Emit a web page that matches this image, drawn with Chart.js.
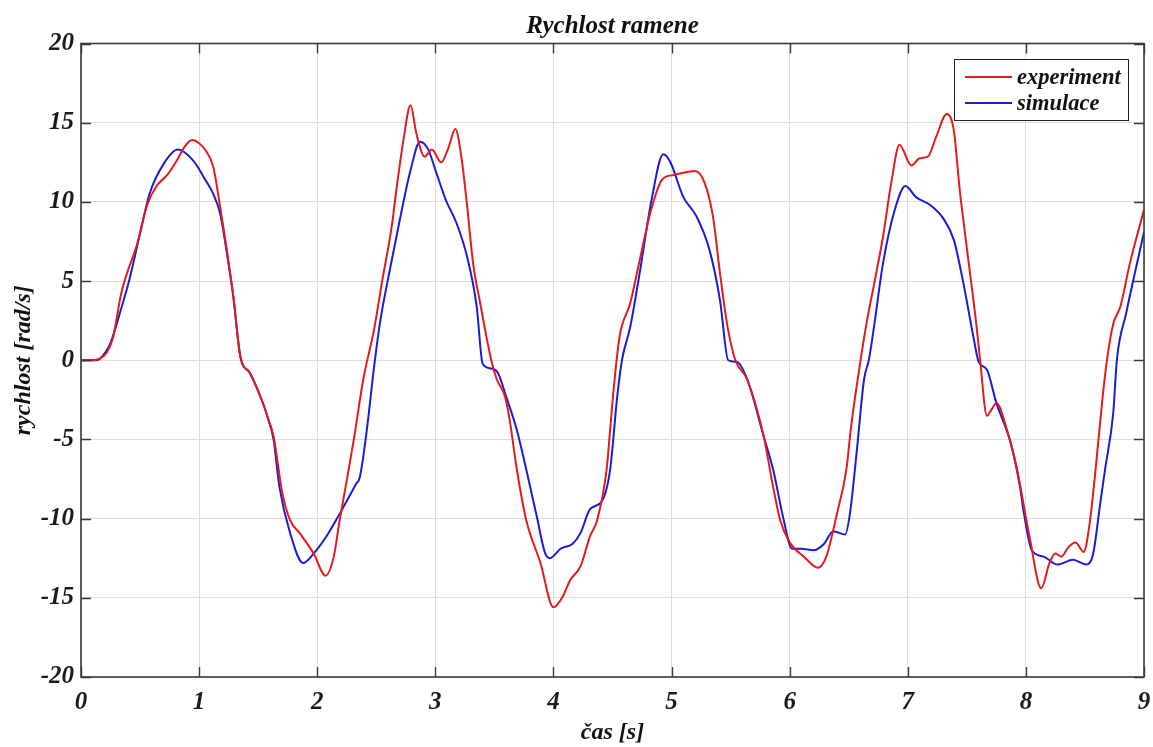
<!DOCTYPE html>
<html>
<head>
<meta charset="utf-8">
<title>Rychlost ramene</title>
<script src="https://cdn.jsdelivr.net/npm/chart.js@4.4.1/dist/chart.umd.min.js"></script>
<style>
  html, body { margin: 0; padding: 0; background: #ffffff; }
  #wrap { width: 1153px; height: 747px; }
</style>
</head>
<body>
<div id="wrap"><canvas id="c" width="1153" height="747"></canvas></div>
<script>
// Measured arm velocity (experiment)
const expTime = [0,0.10,0.16,0.22,0.27,0.34,0.39,0.47,0.56,0.64,0.73,0.81,0.88,0.94,1.00,1.06,1.12,1.18,1.23,1.29,1.35,1.43,1.54,1.58,1.63,1.66,1.70,1.77,1.85,1.97,2.07,2.14,2.19,2.25,2.31,2.39,2.48,2.55,2.63,2.67,2.73,2.79,2.84,2.91,2.97,3.05,3.11,3.17,3.22,3.27,3.32,3.38,3.44,3.48,3.52,3.59,3.63,3.69,3.77,3.89,4.00,4.08,4.14,4.23,4.31,4.37,4.45,4.48,4.51,4.56,4.65,4.73,4.82,4.92,5.02,5.20,5.28,5.35,5.41,5.47,5.54,5.64,5.78,5.86,5.92,6.00,6.12,6.24,6.31,6.40,6.48,6.52,6.58,6.65,6.72,6.79,6.86,6.93,7.03,7.10,7.17,7.24,7.33,7.39,7.44,7.51,7.58,7.61,7.67,7.71,7.75,7.84,7.92,8.03,8.13,8.20,8.25,8.30,8.36,8.42,8.49,8.54,8.59,8.65,8.69,8.74,8.80,8.88,9.00];
const expSpeed = [0,0,0.1,0.5,1.4,4.2,5.5,7.2,9.8,11.0,11.7,12.6,13.5,13.9,13.7,13.2,12.2,9.6,7.2,4.0,0.2,-0.8,-2.7,-3.6,-4.8,-6.2,-8.2,-10.1,-10.9,-12.2,-13.6,-12.4,-10.1,-7.6,-5.0,-1.2,1.9,5.0,8.4,10.75,13.9,16.1,14.3,12.85,13.3,12.5,13.4,14.6,12.85,9.7,6.1,3.6,1.2,-0.2,-1.2,-2.3,-3.8,-6.9,-10.1,-12.8,-15.6,-14.9,-13.9,-13.0,-11.1,-10.1,-6.9,-4.4,-1.8,1.5,3.6,6.3,9.3,11.4,11.7,11.95,11.2,9.1,5.5,2.3,0.0,-1.2,-4.8,-8.0,-10.1,-11.5,-12.4,-13.1,-12.4,-9.7,-6.9,-4.2,-1.0,2.3,5.0,7.8,11.2,13.6,12.3,12.75,12.85,14.1,15.55,14.5,10.75,6.5,2.3,0.2,-3.5,-3.1,-2.7,-4.4,-6.7,-11.1,-14.4,-12.8,-12.2,-12.4,-11.8,-11.5,-12.1,-10.3,-6.9,-2.3,0.2,2.3,3.4,6.1,9.5];

// Simulated arm velocity
const simTime = [0,0.12,0.16,0.25,0.33,0.41,0.50,0.58,0.70,0.82,0.95,1.06,1.12,1.18,1.23,1.29,1.35,1.43,1.54,1.58,1.63,1.68,1.77,1.88,1.97,2.08,2.19,2.33,2.36,2.42,2.48,2.53,2.62,2.70,2.79,2.87,2.94,3.01,3.09,3.18,3.27,3.35,3.40,3.46,3.53,3.60,3.69,3.77,3.86,3.93,3.97,4.06,4.16,4.23,4.31,4.41,4.48,4.54,4.58,4.65,4.73,4.83,4.93,4.99,5.10,5.21,5.32,5.41,5.48,5.55,5.64,5.78,5.86,5.95,6.02,6.10,6.20,6.29,6.37,6.47,6.51,6.57,6.63,6.67,6.71,6.79,6.89,6.98,7.07,7.19,7.30,7.39,7.47,7.56,7.60,7.67,7.75,7.87,7.95,7.98,8.05,8.15,8.27,8.40,8.51,8.57,8.63,8.67,8.74,8.77,8.85,9.00];
const simSpeed = [0,0,0.1,1.1,3.0,5.1,8.0,10.5,12.4,13.3,12.6,11.3,10.5,9.2,7.0,4.0,0.2,-0.8,-2.7,-3.6,-5.0,-8.0,-10.9,-12.8,-12.2,-11.1,-9.7,-7.8,-7.4,-4.4,-0.5,2.3,5.9,8.9,12.0,13.8,13.3,11.8,10.1,8.65,6.5,3.4,-0.2,-0.5,-0.8,-2.3,-4.4,-6.9,-9.9,-12.2,-12.5,-11.9,-11.6,-10.9,-9.4,-8.9,-6.9,-2.3,0.0,2.1,5.5,10.1,13.0,12.5,10.3,9.1,7.0,3.8,0.0,-0.1,-1.2,-4.8,-6.9,-10.1,-11.9,-11.9,-12.0,-11.6,-10.8,-11.0,-9.7,-5.6,-1.2,0.0,1.9,6.1,9.5,11.0,10.3,9.8,8.96,7.6,4.9,1.3,-0.1,-0.6,-2.7,-5.2,-8.0,-9.5,-12.0,-12.4,-12.9,-12.6,-12.9,-12.2,-9.0,-6.9,-3.3,0.0,3.0,8.1];

// Axis tick values
const timeTicks = [0,1,2,3,4,5,6,7,8,9];
const speedTicks = [-20,-15,-10,-5,0,5,10,15,20];

const seriesNames = ['experiment', 'simulace'];
const seriesColors = ['rgb(228,26,28)', 'rgb(28,28,214)'];

const serif = "'Liberation Serif', 'Times New Roman', serif";
const frameColor = '#3a3a3a';

function pairs(xs, ys) { return xs.map((x, i) => ({ x: x, y: ys[i] })); }

// Box around the plot area with inward tick marks on all four sides
const frameTicks = {
  id: 'frameTicks',
  afterDatasetsDraw(chart) {
    const { ctx, chartArea: a, scales } = chart;
    const len = 10;
    ctx.save();
    ctx.strokeStyle = frameColor;
    ctx.lineWidth = 1.4;
    ctx.beginPath();
    timeTicks.forEach(t => {
      const x = Math.round(scales.x.getPixelForValue(t)) + 0.5;
      ctx.moveTo(x, a.bottom); ctx.lineTo(x, a.bottom - len);
      ctx.moveTo(x, a.top); ctx.lineTo(x, a.top + len);
    });
    speedTicks.forEach(v => {
      const y = Math.round(scales.y.getPixelForValue(v)) + 0.5;
      ctx.moveTo(a.left, y); ctx.lineTo(a.left + len, y);
      ctx.moveTo(a.right, y); ctx.lineTo(a.right - len, y);
    });
    ctx.stroke();
    ctx.lineWidth = 1.6;
    ctx.strokeRect(a.left, a.top, a.right - a.left, a.bottom - a.top);
    ctx.restore();
  }
};

// Boxed legend in the upper right corner of the plot
const boxLegend = {
  id: 'boxLegend',
  afterDraw(chart) {
    const { ctx, chartArea: a } = chart;
    const w = 174, h = 61;
    const x0 = a.right - 16 - w, y0 = a.top + 15.5;
    ctx.save();
    ctx.fillStyle = '#ffffff';
    ctx.fillRect(x0, y0, w, h);
    ctx.strokeStyle = '#222222';
    ctx.lineWidth = 1;
    ctx.strokeRect(x0 + 0.5, y0 + 0.5, w, h);
    ctx.font = "italic bold 22.5px " + serif;
    ctx.textBaseline = 'middle';
    ctx.textAlign = 'left';
    chart.data.datasets.forEach((ds, i) => {
      const y = y0 + 18 + i * 26;
      ctx.strokeStyle = ds.borderColor;
      ctx.lineWidth = 2;
      ctx.beginPath();
      ctx.moveTo(x0 + 11, y); ctx.lineTo(x0 + 58, y);
      ctx.stroke();
      ctx.fillStyle = '#111111';
      ctx.fillText(ds.label, x0 + 63, y + 1);
    });
    ctx.restore();
  }
};

new Chart(document.getElementById('c'), {
  type: 'line',
  data: {
    datasets: [
      { label: seriesNames[0], data: pairs(expTime, expSpeed), borderColor: seriesColors[0] },
      { label: seriesNames[1], data: pairs(simTime, simSpeed), borderColor: seriesColors[1] }
    ]
  },
  options: {
    responsive: false,
    animation: false,
    devicePixelRatio: 1,
    layout: { padding: { left: 0, right: 9, top: 0, bottom: 0 } },
    elements: {
      point: { radius: 0 },
      line: { borderWidth: 2, cubicInterpolationMode: 'monotone', fill: false }
    },
    plugins: {
      legend: { display: false },
      tooltip: { enabled: false },
      title: {
        display: true,
        fullSize: false,
        text: 'Rychlost ramene',
        color: '#111111',
        font: { family: serif, size: 25, style: 'italic', weight: 'bold' },
        padding: { top: 12, bottom: 1.5 }
      }
    },
    scales: {
      x: {
        type: 'linear',
        min: 0, max: 9,
        afterBuildTicks(s) { s.ticks = timeTicks.map(v => ({ value: v })); },
        afterFit(s) { s.height = 70; s.paddingLeft = 0; s.paddingRight = 0; },
        grid: { color: '#dcdcdc', lineWidth: 1, drawTicks: false },
        border: { display: false },
        ticks: {
          padding: 11,
          color: '#1a1a1a',
          font: { family: serif, size: 25, style: 'italic', weight: 'bold' },
          callback: v => String(v)
        },
        title: {
          display: true,
          text: 'čas [s]',
          color: '#111111',
          font: { family: serif, size: 24, style: 'italic', weight: 'bold' },
          padding: { top: 0, bottom: 0 }
        }
      },
      y: {
        type: 'linear',
        min: -20, max: 20,
        afterBuildTicks(s) { s.ticks = speedTicks.map(v => ({ value: v })); },
        afterFit(s) { s.width = 81; s.paddingTop = 0; s.paddingBottom = 0; },
        grid: { color: '#dcdcdc', lineWidth: 1, drawTicks: false },
        border: { display: false },
        ticks: {
          padding: 7,
          color: '#1a1a1a',
          font: { family: serif, size: 25, style: 'italic', weight: 'bold' },
          callback: v => String(v)
        },
        title: {
          display: true,
          text: 'rychlost [rad/s]',
          color: '#111111',
          font: { family: serif, size: 24, style: 'italic', weight: 'bold' },
          padding: { top: 9, bottom: 0 }
        }
      }
    }
  },
  plugins: [frameTicks, boxLegend]
});
</script>
</body>
</html>
